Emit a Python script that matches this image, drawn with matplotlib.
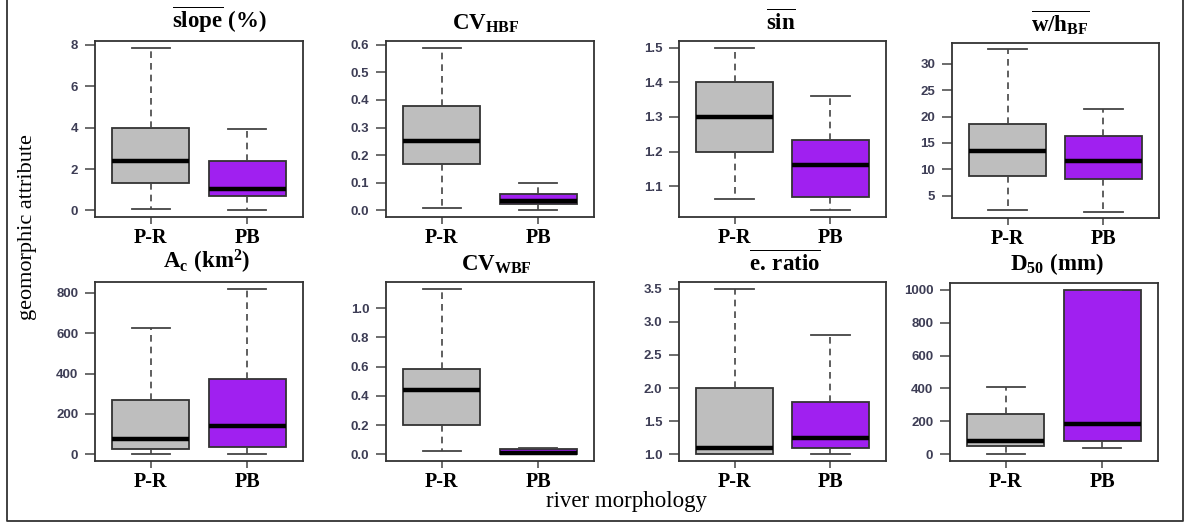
import matplotlib
matplotlib.use('Agg')
import matplotlib.pyplot as plt
from matplotlib.lines import Line2D

# 数据：每组 [下须, Q1, 中位数, Q3, 上须]
groups = ['P-R', 'PB']

slope_pr = [0.05, 1.33, 2.37, 4.0, 7.86]
slope_pb = [0.0, 0.72, 1.04, 2.37, 3.94]
cvh_pr = [0.01, 0.17, 0.25, 0.378, 0.59]
cvh_pb = [0.0, 0.022, 0.034, 0.06, 0.10]
sin_pr = [1.062, 1.2, 1.3, 1.4, 1.5]
sin_pb = [1.03, 1.069, 1.162, 1.232, 1.36]
wh_pr = [2.2, 8.7, 13.4, 18.6, 32.7]
wh_pb = [2.0, 8.1, 11.5, 16.4, 21.5]
ac_pr = [0, 27, 74, 270, 624]
ac_pb = [0, 35, 139, 375, 820]
cvw_pr = [0.025, 0.2, 0.44, 0.584, 1.134]
cvw_pb = [0.0, 0.003, 0.012, 0.037, 0.045]
er_pr = [1.0, 1.0, 1.09, 2.0, 3.5]
er_pb = [1.0, 1.10, 1.25, 1.79, 2.80]
d50_pr = [0, 48, 83, 243, 411]
d50_pb = [41, 83, 187, 1000, 1000]

titles = [r'$\overline{\mathrm{slope}}\ \mathrm{(\%)}$',
          r'$\mathrm{CV}_{\mathrm{HBF}}$',
          r'$\overline{\mathrm{sin}}$',
          r'$\overline{\mathrm{w/h}_{\mathrm{BF}}}$',
          r'$\mathrm{A_c\ (km^2)}$',
          r'$\mathrm{CV}_{\mathrm{WBF}}$',
          r'$\overline{\mathrm{e.\,ratio}}$',
          r'$\mathrm{D_{50}\ (mm)}$']

yticks = [[0, 2, 4, 6, 8],
          [0.0, 0.1, 0.2, 0.3, 0.4, 0.5, 0.6],
          [1.1, 1.2, 1.3, 1.4, 1.5],
          [5, 10, 15, 20, 25, 30],
          [0, 200, 400, 600, 800],
          [0.0, 0.2, 0.4, 0.6, 0.8, 1.0],
          [1.0, 1.5, 2.0, 2.5, 3.0, 3.5],
          [0, 200, 400, 600, 800, 1000]]
ytick_fmt = ['{:.0f}', '{:.1f}', '{:.1f}', '{:.0f}', '{:.0f}', '{:.1f}', '{:.1f}', '{:.0f}']

panels = [(slope_pr, slope_pb), (cvh_pr, cvh_pb), (sin_pr, sin_pb), (wh_pr, wh_pb),
          (ac_pr, ac_pb), (cvw_pr, cvw_pb), (er_pr, er_pb), (d50_pr, d50_pb)]

colors = ['#BEBEBE', '#A020F0']

plt.rcParams['mathtext.fontset'] = 'custom'
plt.rcParams['mathtext.rm'] = 'Liberation Serif:bold'
plt.rcParams['mathtext.it'] = 'Liberation Serif:bold'
plt.rcParams['mathtext.bf'] = 'Liberation Serif:bold'

W, H = 1190, 525
fig = plt.figure(figsize=(W / 100, H / 100), dpi=100)

# 每个子图的像素位置 (左, 上, 右, 下)
boxes_px = [(95, 41, 303, 217), (386, 41, 594, 217), (679, 41, 886, 217), (952, 43, 1159, 218),
            (95, 282, 303, 461), (386, 282, 594, 461), (679, 282, 886, 461), (950, 283, 1158, 461)]
title_dx = [20, -4, -2, 5, 8, 6, 2, 3]

edge = '#333333'
for i, (pr, pb) in enumerate(panels):
    l, t, r, b = boxes_px[i]
    ax = fig.add_axes([l / W, 1 - b / H, (r - l) / W, (b - t) / H])
    stats = []
    for name, s in zip(groups, (pr, pb)):
        stats.append(dict(label=name, whislo=s[0], q1=s[1], med=s[2], q3=s[3], whishi=s[4]))
    bp = ax.bxp(stats, positions=[1, 2], widths=0.8, capwidths=0.4, showfliers=False,
                patch_artist=True,
                boxprops=dict(edgecolor=edge, linewidth=1.3),
                whiskerprops=dict(color='#444444', linewidth=1.2, linestyle=(0, (4, 3))),
                capprops=dict(color='#444444', linewidth=1.3),
                medianprops=dict(color='black', linewidth=3.2, solid_capstyle='butt'))
    for patch, c in zip(bp['boxes'], colors):
        patch.set_facecolor(c)
    lo = min(pr[0], pb[0])
    hi = max(pr[4], pb[4])
    pad = 0.04 * (hi - lo)
    ax.set_ylim(lo - pad, hi + pad)
    ax.set_xlim(0.42, 2.58)
    ax.set_yticks(yticks[i])
    ax.set_yticklabels([ytick_fmt[i].format(v) for v in yticks[i]],
                       fontfamily='Liberation Sans', fontweight='bold', fontsize=9.5,
                       color='#3d3d55')
    ax.set_xticks([1, 2])
    ax.set_xticklabels(groups, fontfamily='Liberation Serif', fontweight='bold', fontsize=14.5)
    ax.tick_params(axis='y', length=7, width=1.1, color='#444444', pad=5)
    ax.tick_params(axis='x', length=5, width=1.1, color='#444444', pad=3)
    for sp in ax.spines.values():
        sp.set_color(edge)
        sp.set_linewidth(1.3)
    cx = (l + r) / 2 + title_dx[i]
    fig.text(cx / W, 1 - (t - 6) / H, titles[i], ha='center', va='bottom', fontsize=16.5)

fig.text(28 / W, 1 - 227 / H, 'geomorphic attribute', rotation=90, ha='center', va='center',
         fontfamily='Liberation Serif', fontsize=16)
fig.text(626 / W, 1 - 501 / H, 'river morphology', ha='center', va='center',
         fontfamily='Liberation Serif', fontsize=16.5)

# 外框
fx = [7 / W, 7 / W, 1183 / W, 1183 / W]
fy = [1.0, 1 - 521 / H, 1 - 521 / H, 1.0]
fig.add_artist(Line2D(fx, fy, transform=fig.transFigure, color='#333333', linewidth=1.3))

fig.savefig('out.png', dpi=100)
